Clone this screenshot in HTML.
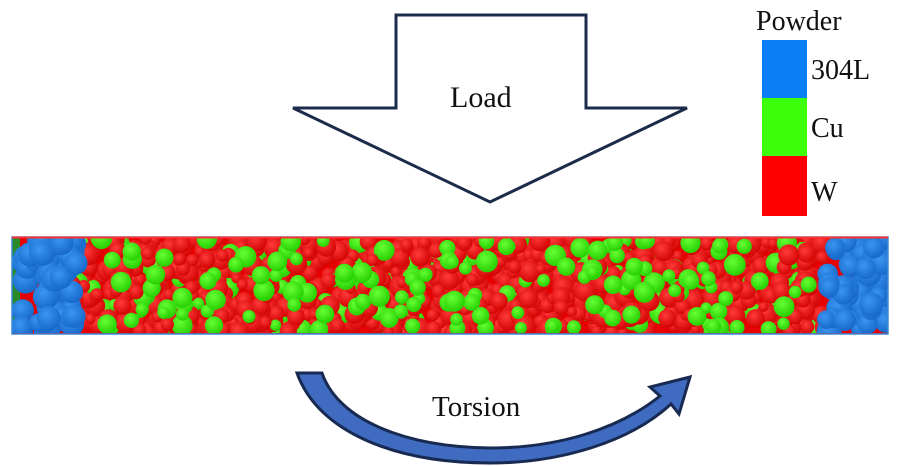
<!DOCTYPE html>
<html><head><meta charset="utf-8"><style>
html,body{margin:0;padding:0;background:#fff;width:898px;height:466px;overflow:hidden}
svg{display:block}
text{font-family:"Liberation Serif",serif;fill:#111}
</style></head><body>
<svg id="s" width="898" height="466" viewBox="0 0 898 466" xmlns="http://www.w3.org/2000/svg">
<defs>
<radialGradient id="gr" cx="0.4" cy="0.35" r="0.7"><stop offset="0" stop-color="#ff3a3a"/><stop offset="1" stop-color="#d00000"/></radialGradient>
<radialGradient id="gg" cx="0.4" cy="0.35" r="0.7"><stop offset="0" stop-color="#66ff33"/><stop offset="1" stop-color="#22cc00"/></radialGradient>
<radialGradient id="gb" cx="0.4" cy="0.35" r="0.7"><stop offset="0" stop-color="#3a96f0"/><stop offset="1" stop-color="#1565c8"/></radialGradient>
<clipPath id="bc"><rect x="12" y="238" width="876" height="95"/></clipPath>
</defs>
<path d="M396,15 L586,15 L586,108 L687,108 L490,202 L293,108 L396,108 Z" fill="#fff" stroke="#1c2b4a" stroke-width="3" stroke-linejoin="miter"/>
<text x="450" y="107" font-size="30">Load</text>
<text x="756" y="30" font-size="28">Powder</text>
<rect x="762" y="40" width="45" height="58" fill="#0a7ff5"/>
<rect x="762" y="98" width="45" height="58" fill="#3dff0a"/>
<rect x="762" y="156" width="45" height="60" fill="#ff0000"/>
<text x="811" y="79" font-size="28">304L</text>
<text x="811" y="137" font-size="28">Cu</text>
<text x="811" y="201" font-size="28">W</text>
<rect x="12" y="237" width="876" height="97" fill="#e80000"/>
<rect x="12" y="238" width="8" height="95" fill="#2a8a2a"/>
<g id="parts" clip-path="url(#bc)"></g>
<rect x="12" y="237" width="876" height="97" fill="none" stroke="#3a8ad8" stroke-width="1.5"/>
<line x1="12" y1="237.5" x2="888" y2="237.5" stroke="#ff3030" stroke-width="2"/>
<path d="M297,373 L322,373 C338,420 405,447 490,448 C560,448 620,428 660,396 L650,387 L690,377 L679,414 L671,404 C630,442 560,463 490,463 C395,463 318,432 297,373 Z" fill="#3f6cc0" stroke="#182a52" stroke-width="3" stroke-linejoin="miter"/>
<text x="432" y="416" font-size="29">Torsion</text>
</svg>
<script>
(function(){
var g=document.getElementById('parts');var s=12345;
function r(){s=(s*1103515245+12345)%2147483648;return s/2147483648;}
var h='';
for(var i=0;i<1100;i++){var x=70+r()*755,y=238+r()*95,rad=5+r()*6;var c=r()<0.12?'gg':'gr';
h+='<circle cx="'+x.toFixed(1)+'" cy="'+y.toFixed(1)+'" r="'+rad.toFixed(1)+'" fill="url(#'+c+')"/>';}
for(var i=0;i<110;i++){var x=85+r()*725,y=238+r()*95,rad=6+r()*5;
h+='<circle cx="'+x.toFixed(1)+'" cy="'+y.toFixed(1)+'" r="'+rad.toFixed(1)+'" fill="url(#gg)"/>';}
for(var i=0;i<60;i++){var x=20+r()*56,y=238+r()*95,rad=9+r()*4;
h+='<circle cx="'+x.toFixed(1)+'" cy="'+y.toFixed(1)+'" r="'+rad.toFixed(1)+'" fill="url(#gb)"/>';}
for(var i=0;i<60;i++){var x=826+r()*60,y=238+r()*95,rad=9+r()*4;
h+='<circle cx="'+x.toFixed(1)+'" cy="'+y.toFixed(1)+'" r="'+rad.toFixed(1)+'" fill="url(#gb)"/>';}
g.innerHTML=h;
})();
</script>
</body></html>
